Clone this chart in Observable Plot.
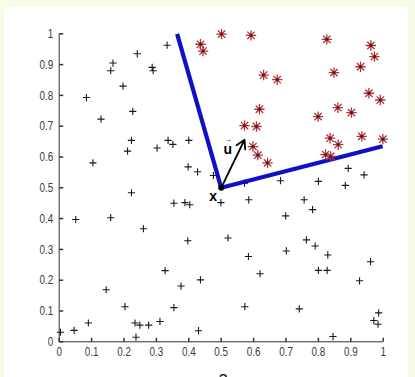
<!DOCTYPE html>
<html>
<head>
<meta charset="utf-8">
<script src="https://cdn.jsdelivr.net/npm/d3@7"></script>
<script src="https://cdn.jsdelivr.net/npm/@observablehq/plot@0.6"></script>
<style>
  html, body { margin: 0; padding: 0; width: 415px; height: 377px; overflow: hidden; background: #f5fde6; }
  #chart { position: absolute; left: 4px; top: 7px; }
</style>
</head>
<body>
<div id="chart"></div>
<script>
// Tick values shared by both axes
const ticks = [0, 0.1, 0.2, 0.3, 0.4, 0.5, 0.6, 0.7, 0.8, 0.9, 1];

// Negative class (+)
const plusPoints = [
  [0.004, 0.031], [0.046, 0.037], [0.090, 0.061], [0.051, 0.397], [0.084, 0.793],
  [0.129, 0.723], [0.104, 0.581], [0.145, 0.169], [0.159, 0.403], [0.166, 0.905],
  [0.159, 0.880], [0.197, 0.830], [0.203, 0.114], [0.227, 0.748], [0.223, 0.654],
  [0.211, 0.619], [0.223, 0.484], [0.241, 0.935], [0.234, 0.061], [0.249, 0.054],
  [0.237, 0.015], [0.260, 0.367], [0.276, 0.054], [0.287, 0.891], [0.290, 0.880],
  [0.302, 0.629], [0.311, 0.066], [0.327, 0.231], [0.333, 0.963], [0.336, 0.654],
  [0.351, 0.641], [0.354, 0.450], [0.354, 0.111], [0.376, 0.181], [0.388, 0.452],
  [0.403, 0.445], [0.398, 0.568], [0.400, 0.654], [0.397, 0.328], [0.427, 0.552],
  [0.436, 0.201], [0.430, 0.036], [0.499, 0.452], [0.521, 0.337], [0.573, 0.114],
  [0.585, 0.461], [0.584, 0.277], [0.620, 0.221], [0.683, 0.523], [0.699, 0.409],
  [0.701, 0.295], [0.741, 0.107], [0.756, 0.461], [0.763, 0.331], [0.782, 0.429],
  [0.790, 0.311], [0.800, 0.521], [0.800, 0.232], [0.827, 0.232], [0.829, 0.282],
  [0.845, 0.017], [0.883, 0.508], [0.892, 0.563], [0.927, 0.198], [0.941, 0.542],
  [0.961, 0.260], [0.986, 0.094], [0.971, 0.069], [0.984, 0.057], [0.572, 0.515],
  [0.476, 0.540]
];

// Positive class (*)
const starPoints = [
  [0.436, 0.966], [0.444, 0.944], [0.501, 0.999], [0.592, 0.995], [0.826, 0.982],
  [0.962, 0.962], [0.973, 0.926], [0.930, 0.893], [0.848, 0.874], [0.631, 0.866],
  [0.673, 0.851], [0.956, 0.807], [0.991, 0.785], [0.618, 0.755], [0.860, 0.760],
  [0.902, 0.744], [0.799, 0.731], [0.572, 0.702], [0.609, 0.699], [0.836, 0.661],
  [0.934, 0.667], [0.999, 0.658], [0.861, 0.640], [0.598, 0.634], [0.613, 0.606],
  [0.643, 0.581], [0.822, 0.608], [0.838, 0.602]
];

// Query point x and the two boundary segments leaving it
const origin = [0.5, 0.5];
const boundaryEnds = [[0.364, 1.0], [0.998, 0.635]];
// Direction vector u
const uTip = [0.572, 0.656];
// Label positions
const xLabel = [0.475, 0.471];
const uLabel = [0.520, 0.623];

const plusSymbol = {
  draw(ctx, size) {
    const r = Math.sqrt(size / Math.PI);
    ctx.moveTo(-r, 0); ctx.lineTo(r, 0);
    ctx.moveTo(0, -r); ctx.lineTo(0, r);
  }
};
const starSymbol = {
  draw(ctx, size) {
    const r = Math.sqrt(size / Math.PI);
    const d = r * Math.SQRT1_2;
    ctx.moveTo(-r, 0); ctx.lineTo(r, 0);
    ctx.moveTo(0, -r); ctx.lineTo(0, r);
    ctx.moveTo(-d, -d); ctx.lineTo(d, d);
    ctx.moveTo(-d, d); ctx.lineTo(d, -d);
  }
};
const tickUp = { draw(ctx) { ctx.moveTo(0, 0); ctx.lineTo(0, -4); } };
const tickRight = { draw(ctx) { ctx.moveTo(0, 0); ctx.lineTo(4, 0); } };

const axisFont = "'Liberation Sans', Arial, sans-serif";
const axisColor = "#333";
const fmt = d => String(d);

const chart = Plot.plot({
  width: 404,
  height: 370,
  marginLeft: 54.7,
  marginRight: 25.3,
  marginTop: 26.3,
  marginBottom: 35.7,
  style: { background: "white", fontFamily: "'Liberation Sans', Arial, sans-serif" },
  x: { domain: [0, 1] },
  y: { domain: [0, 1] },
  marks: [
    Plot.ruleX([0], { stroke: axisColor }),
    Plot.ruleY([0], { stroke: axisColor }),
    Plot.dot(ticks, { x: d => d, y: 0, symbol: tickUp, r: 1, stroke: axisColor, fill: "none" }),
    Plot.dot(ticks, { x: 0, y: d => d, symbol: tickRight, r: 1, stroke: axisColor, fill: "none" }),
    Plot.axisX(ticks, { tickSize: 0, tickPadding: 5, tickFormat: fmt, fontSize: 13, fontFamily: axisFont, fill: "#3a3a3a", label: null }),
    Plot.axisY(ticks, { tickSize: 0, tickPadding: 6, tickFormat: fmt, fontSize: 13, fontFamily: axisFont, fill: "#3a3a3a", label: null }),
    Plot.dot(plusPoints, { x: d => d[0], y: d => d[1], symbol: plusSymbol, r: 3.6, stroke: "#1a1a1a", strokeWidth: 1.1, fill: "none" }),
    Plot.link(boundaryEnds, {
      x1: () => origin[0], y1: () => origin[1], x2: d => d[0], y2: d => d[1],
      stroke: "#1010c8", strokeWidth: 4.2, strokeLinecap: "butt"
    }),
    Plot.dot(starPoints, { x: d => d[0], y: d => d[1], symbol: starSymbol, r: 5.2, stroke: "#a8383a", strokeWidth: 1.3, fill: "none" }),
    Plot.dot(starPoints, { x: d => d[0], y: d => d[1], r: 1.4, fill: "#6a0c10" }),
    Plot.arrow([uTip], {
      x1: () => origin[0], y1: () => origin[1], x2: d => d[0], y2: d => d[1],
      stroke: "black", strokeWidth: 1.8, headLength: 8
    }),
    Plot.dot([origin], { x: d => d[0], y: d => d[1], r: 3, fill: "black" }),
    Plot.text([xLabel], { x: d => d[0], y: d => d[1], text: () => "x", fontSize: 14, fontWeight: "bold", fill: "black" }),
    Plot.text([uLabel], { x: d => d[0], y: d => d[1], text: () => "u", fontSize: 14, fontWeight: "bold", fill: "black" }),
    Plot.text([uLabel], { x: d => d[0], y: d => d[1], text: () => "→", dy: -10, fontSize: 8, fill: "black" }),
    Plot.text(["a"], { frameAnchor: "bottom", dy: 29, dx: 2, fontSize: 18, fill: "#111", lineAnchor: "top" })
  ]
});
document.getElementById("chart").append(chart);

// Narrow the tick labels horizontally
chart.querySelectorAll('g[aria-label="x-axis tick label"] text, g[aria-label="y-axis tick label"] text').forEach(t => {
  const len = t.getComputedTextLength();
  t.setAttribute("textLength", (len * 0.76).toFixed(2));
  t.setAttribute("lengthAdjust", "spacingAndGlyphs");
});
</script>
</body>
</html>
